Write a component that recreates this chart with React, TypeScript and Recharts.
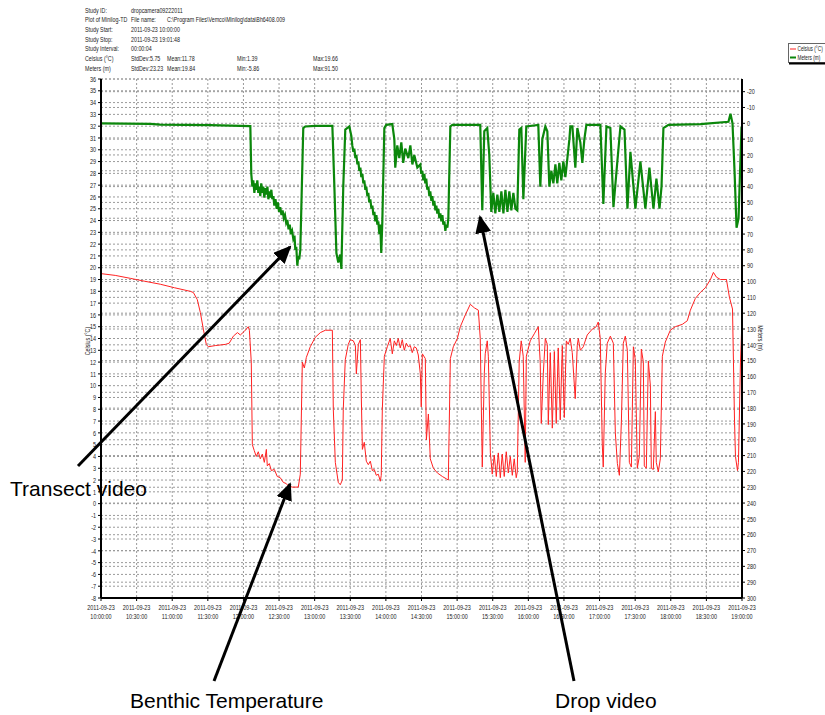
import React from 'react';
import { LineChart, Line, XAxis, YAxis, CartesianGrid } from 'recharts';

// minutes after 2011-09-23 10:00:00, value
const temperature: [number, number][] = [
  [0, 19.5], [12, 19.35], [24.7, 19.1], [37, 18.85], [50, 18.6], [62, 18.3], [75.2, 18.0], [77.8, 17.9], [81.1, 17.3],
  [83.7, 16.2], [86.2, 14.8], [88.7, 13.5], [90.4, 13.3], [96.3, 13.4], [104.7, 13.5], [108, 13.6], [111.5, 14.2],
  [114.9, 14.5], [117.4, 14.3], [120.7, 14.6], [124.1, 15.0], [125, 14.7], [126.6, 12], [127.5, 5.0], [129.1, 4.5],
  [130.8, 4.0], [132.5, 4.4], [134.2, 3.8], [135.9, 4.2], [137.6, 3.5], [139.3, 4.6], [140.1, 3.2], [141.8, 3.4],
  [143.5, 2.8], [146, 2.9], [148.5, 2.3], [151, 2.2], [153.6, 1.8], [156.1, 1.7], [157.8, 1.5], [161.2, 1.4],
  [166.2, 1.4], [167.9, 2.5], [169.6, 12.0], [171.3, 11.5], [173, 12.4], [176.3, 13.3], [180.5, 14.1], [184.8, 14.5],
  [189, 14.7], [194.9, 14.7], [195.7, 8], [197.4, 3.5], [199.9, 1.8], [201.6, 1.6], [203.3, 2.0], [204.1, 8],
  [205.8, 12.2], [208.3, 13.5], [210, 13.9], [212.6, 13.8], [214.3, 13.4], [215.1, 11.0], [216.8, 13.5], [218.5, 13.9],
  [219.3, 9], [220.2, 4.6], [221.8, 5.2], [223.5, 3.6], [225.2, 3.3], [226.9, 3.6], [228.6, 2.8], [230.2, 2.9],
  [231.9, 2.4], [233.6, 2.5], [235.3, 1.9], [236.1, 2.4], [237, 8], [238.7, 12.5], [241.2, 13.3], [243.7, 14.0],
  [245.4, 12.7], [247.1, 13.8], [248.8, 13.4], [250.4, 14.0], [252.1, 13.2], [253.8, 13.9], [255.5, 13.0],
  [257.2, 13.6], [258.9, 13.3], [260.6, 13.4], [262.2, 12.8], [263.9, 13.3], [265.6, 13.2], [267.3, 12.6], [269, 11],
  [269.8, 8.2], [270.7, 12.7], [273.2, 12.3], [274.1, 5.4], [275.8, 7.6], [277.4, 3.8], [280, 3.0], [283.4, 2.6],
  [287.6, 2.3], [291, 2.1], [292.6, 2.0], [294.3, 12.3], [296.8, 13.3], [300.2, 14.0], [302.7, 15.0], [306.9, 16.0],
  [311.1, 16.9], [314.5, 16.6], [317.9, 16.4], [319.5, 14], [321.2, 3.1], [322.9, 11], [323.7, 12.7], [325.4, 13.8],
  [326.3, 12.5], [328, 4.3], [329.6, 2.5], [331.3, 4.1], [333, 2.3], [334.7, 4.3], [336.4, 2.2], [338, 4.2],
  [339.7, 2.3], [341.4, 4.4], [343.1, 2.6], [344.8, 4.0], [346.5, 2.4], [348.1, 3.8], [349.8, 2.2], [350.7, 2.7],
  [352.3, 12], [354, 13.8], [355.7, 12.5], [357.4, 3.5], [358.3, 12.5], [361.6, 13.8], [365, 14.4], [368.4, 15.0],
  [370, 12], [370.9, 6.8], [372.6, 11], [374.3, 14.0], [376, 13.5], [376.8, 6.7], [378.5, 12.8], [380.2, 6.4],
  [381.9, 12.9], [383.5, 6.8], [385.2, 13.2], [386.9, 7.1], [388.6, 13.4], [390.3, 7.3], [392, 13.8], [393.6, 13.5],
  [395.3, 14.0], [397, 12.8], [399.5, 8.9], [401.2, 13.4], [402.1, 14.0], [403.8, 13.0], [406.3, 13.3], [409.6, 14.3],
  [413.9, 14.8], [417.2, 15.0], [418.9, 15.4], [420.6, 14], [422.3, 5], [423.1, 3.1], [424.8, 11], [426.5, 13.6],
  [429.1, 14.2], [431.6, 13.6], [433.3, 6], [435, 3.4], [436.7, 2.4], [438.4, 7], [440, 13.6], [441.7, 14.2],
  [443.4, 13], [445.1, 3.5], [446.8, 3.1], [448.5, 13.3], [450.1, 12.2], [451.8, 3.0], [453.5, 4.0], [455.2, 13.1],
  [456.9, 12.0], [457.7, 3.2], [459.4, 3.0], [461.1, 12.1], [462.8, 10], [463.6, 3.0], [465.3, 2.9], [467, 7.8],
  [467.8, 3.5], [469.5, 2.7], [471.2, 3.8], [472.9, 12.5], [475.4, 13.7], [479.6, 14.7], [483.8, 15.0], [489.7, 15.2],
  [493.9, 15.5], [496.5, 16.4], [500.7, 17.4], [504.9, 17.9], [509.1, 18.3], [513.4, 19.0], [515.9, 19.6],
  [518.5, 19.2], [521.8, 19.0], [526.9, 19.0], [529.4, 17.5], [532, 16.5], [533.7, 7], [534.5, 4.0], [536.2, 2.8],
  [537, 3.5], [538.7, 12], [539.6, 14.5],
];

const depth: [number, number][] = [
  [0, 0], [41.5, 0.3], [50, 0.8], [92, 1.2], [125.8, 1.8],
  [126.6, 32], [127.5, 40], [128.3, 36], [129.2, 44], [130, 38], [130.8, 42], [131.7, 36], [132.5, 44], [133.4, 40],
  [134.2, 46], [135, 38], [135.9, 44], [136.7, 40], [137.6, 47], [138.5, 41], [139.3, 45], [140.2, 40], [141, 48],
  [141.8, 43], [142.6, 47], [143.5, 42], [144.3, 48], [145.2, 46], [146, 52], [147, 48], [148, 54], [149, 50],
  [150, 56], [151, 53], [152, 58], [153, 55], [154, 60], [155, 58], [156, 63], [157, 61], [158, 67], [159, 64],
  [160, 70], [161, 68], [162, 73], [163, 71], [163.7, 80], [164.5, 78], [165.4, 90], [166.2, 84], [167, 86],
  [167.9, 80], [170.4, 3], [172.1, 2], [180.5, 1.6], [194.9, 1.6], [196.6, 40], [198.3, 82], [199.9, 88],
  [201.6, 83], [202.5, 92], [204.1, 40], [205.8, 4], [209.2, 2],
  [210.9, 8], [211.7, 14], [212.6, 18], [213.4, 16], [214.3, 22], [215.1, 20], [216, 26], [216.8, 24], [217.6, 30],
  [218.5, 28], [219.3, 34], [220.2, 32], [221, 38], [221.8, 36], [222.7, 42], [223.5, 40], [224.4, 46], [225.2, 44],
  [226, 50], [226.9, 48], [227.8, 54], [228.6, 52], [229.5, 58], [230.3, 56], [231.1, 62], [232, 58], [232.8, 64],
  [233.6, 62], [234.5, 70], [235.3, 64], [236.1, 82], [237, 62], [238.7, 3], [240.3, 1], [245.4, 0.5],
  [247.1, 10], [247.9, 28], [249.6, 14], [251.3, 22], [253, 12], [254.6, 25], [256.3, 16], [258.9, 22], [260.6, 14],
  [262.3, 26], [263.9, 20], [266.5, 28], [269, 26], [269.8, 32], [270.7, 30], [271.5, 36], [272.4, 32], [273.2, 38],
  [274, 35], [274.9, 42], [275.8, 40], [276.6, 46], [277.4, 43], [278.3, 49], [279.1, 46], [280, 52], [280.8, 49],
  [281.7, 55], [282.5, 52], [283.3, 57], [284.2, 54], [285, 60], [285.9, 57], [286.7, 62], [287.6, 58], [288.4, 64],
  [289.3, 62], [290.1, 68], [290.9, 64], [291.8, 66], [292.6, 60], [294.3, 2], [296, 1], [319.5, 1],
  [321.2, 55], [322.9, 5], [325.4, 3], [327.1, 20], [328.8, 56], [330.5, 44], [332.2, 57], [333.9, 45], [335.6, 56],
  [337.3, 43], [339, 57], [340.7, 42], [342.4, 56], [344, 43], [345.7, 55], [347.4, 44], [349.1, 54], [350.7, 55],
  [352.4, 4], [354.1, 3], [355.8, 48], [358.3, 2], [368.4, 1], [370.1, 40], [371.8, 10], [374.3, 2], [376, 5],
  [377.7, 40], [379.4, 30], [381.1, 38], [382.8, 26], [384.4, 38], [386.1, 25], [387.8, 36], [389.5, 24],
  [391.2, 34], [392.9, 22], [394.6, 10], [395.4, 2], [397.1, 2], [399.6, 28], [401.3, 3], [403.8, 12], [405.5, 25],
  [407.2, 10], [408.9, 1], [420.7, 1], [423.2, 51], [425.8, 2], [429.1, 3], [431.7, 53], [435, 24], [437.6, 2],
  [441, 4], [443.5, 54], [446, 18], [450.2, 54], [454.4, 24], [458.6, 54], [462, 28], [465.4, 54], [467.9, 35],
  [470.5, 54], [472.2, 40], [473.8, 3], [478.1, 1], [505, 0.5], [528.6, -1], [530.3, -6], [532, 0], [533.7, 30],
  [535.4, 66], [537.1, 60], [539.6, 2],
];

const tempData = temperature.map(([t, v]) => ({ t, v }));
const depthData = depth.map(([t, v]) => ({ t, v }));

const xTicks = [0, 30, 60, 90, 120, 150, 180, 210, 240, 270, 300, 330, 360, 390, 420, 450, 480, 510, 540];
const xTickDate = '2011-09-23';
const xTickTimes = [
  '10:00:00', '10:30:00', '11:00:00', '11:30:00', '12:00:00', '12:30:00', '13:00:00', '13:30:00', '14:00:00',
  '14:30:00', '15:00:00', '15:30:00', '16:00:00', '16:30:00', '17:00:00', '17:30:00', '18:00:00', '18:30:00', '19:00:00',
];
const leftTicks = [
  -8, -7, -6, -5, -4, -3, -2, -1, 0, 1, 2, 3, 4, 5, 6, 7, 8, 9, 10, 11, 12, 13, 14, 15, 16, 17, 18, 19, 20, 21, 22,
  23, 24, 25, 26, 27, 28, 29, 30, 31, 32, 33, 34, 35, 36,
];
const rightTicks = [
  -20, -10, 0, 10, 20, 30, 40, 50, 60, 70, 80, 90, 100, 110, 120, 130, 140, 150, 160, 170, 180, 190, 200, 210, 220,
  230, 240, 250, 260, 270, 280, 290, 300,
];

const headerRows: string[][] = [
  ['Study ID:', 'dropcamera09222011', '', '', ''],
  ['Plot of Minilog-TD', 'File name:', 'C:\\Program Files\\Vemco\\Minilog\\data\\Bh6408.009', '', ''],
  ['Study Start:', '2011-09-23 10:00:00', '', '', ''],
  ['Study Stop:', '2011-09-23 19:01:48', '', '', ''],
  ['Study Interval:', '00:00:04', '', '', ''],
  ['Celsius (°C)', 'StdDev:5.75', 'Mean:11.78', 'Min:1.39', 'Max:19.66'],
  ['Meters (m)', 'StdDev:23.23', 'Mean:19.84', 'Min:-5.86', 'Max:91.50'],
];
const headerCols = [85, 131, 167, 237, 313];

const FONT = '"Liberation Sans", Arial, sans-serif';
const SX = 0.74;

const NText = ({ x, y, size = 7.4, anchor = 'start', children, fill = '#222' }: any) => (
  <text
    transform={`translate(${x},${y}) scale(${SX},1)`}
    textAnchor={anchor}
    fontSize={size}
    fill={fill}
    fontFamily={FONT}
  >
    {children}
  </text>
);

const XTick = (props: any) => {
  const { x, y, payload } = props;
  const i = xTicks.indexOf(payload.value);
  return (
    <g>
      <NText x={x} y={y + 7} anchor="middle">{xTickDate}</NText>
      <NText x={x} y={y + 16.2} anchor="middle">{xTickTimes[i]}</NText>
    </g>
  );
};

const LeftTick = (props: any) => {
  const { x, y, payload } = props;
  return <NText x={x} y={y + 2.7} anchor="end">{payload.value}</NText>;
};

const RightTick = (props: any) => {
  const { x, y, payload } = props;
  return <NText x={x} y={y + 2.7} anchor="start">{payload.value}</NText>;
};

export default function App() {
  return (
    <div style={{ position: 'absolute', left: 0, top: 0, width: 825, height: 715, background: '#fff' }}>
      <LineChart width={825} height={715} margin={{ top: 79, right: 43, left: 61, bottom: 87 }}>
        <CartesianGrid xAxisId="x" yAxisId="left" stroke="#9a9a9a" strokeDasharray="2 2" horizontal vertical />
        <CartesianGrid xAxisId="x" yAxisId="right" stroke="#9a9a9a" strokeDasharray="2 2" horizontal vertical={false} />
        <XAxis
          xAxisId="x"
          dataKey="t"
          type="number"
          domain={[0, 540]}
          ticks={xTicks}
          interval={0}
          allowDataOverflow
          height={30}
          tickSize={3}
          tick={<XTick />}
          axisLine={{ stroke: '#000', strokeWidth: 2 }}
          tickLine={{ stroke: '#000' }}
        />
        <YAxis
          yAxisId="left"
          type="number"
          domain={[-8, 36]}
          ticks={leftTicks}
          interval={0}
          allowDataOverflow
          width={40}
          tickSize={3}
          tick={<LeftTick />}
          axisLine={{ stroke: '#000', strokeWidth: 2 }}
          tickLine={{ stroke: '#000' }}
        />
        <YAxis
          yAxisId="right"
          orientation="right"
          type="number"
          domain={[-28, 300]}
          reversed
          ticks={rightTicks}
          interval={0}
          allowDataOverflow
          width={40}
          tickSize={3}
          tick={<RightTick />}
          axisLine={{ stroke: '#000', strokeWidth: 2 }}
          tickLine={{ stroke: '#000' }}
        />
        <Line
          xAxisId="x"
          yAxisId="left"
          data={tempData}
          dataKey="v"
          type="linear"
          stroke="#ff2222"
          strokeWidth={1}
          dot={false}
          isAnimationActive={false}
        />
        <Line
          xAxisId="x"
          yAxisId="right"
          data={depthData}
          dataKey="v"
          type="linear"
          stroke="#0b870b"
          strokeWidth={2.2}
          dot={false}
          isAnimationActive={false}
        />
      </LineChart>

      <svg width={825} height={715} style={{ position: 'absolute', left: 0, top: 0, pointerEvents: 'none' }}>
        <defs>
          <marker id="ah" markerUnits="userSpaceOnUse" markerWidth={18} markerHeight={16} refX={16} refY={8} orient="auto">
            <path d="M0,0 L18,8 L0,16 z" fill="#000" />
          </marker>
        </defs>
        {headerRows.map((row, r) =>
          row.map((cell, c) =>
            cell ? (
              <NText key={`${r}-${c}`} x={headerCols[c]} y={12.5 + r * 9.7} size={7.2}>
                {cell}
              </NText>
            ) : null
          )
        )}
        {/* legend */}
        <rect x={788.5} y={43.5} width={50} height={19} fill="#fff" stroke="#666" strokeWidth={1} />
        <line x1={789} y1={63.5} x2={830} y2={63.5} stroke="#000" strokeWidth={2} />
        <line x1={790} y1={49} x2={796} y2={49} stroke="#ff2222" strokeWidth={1} />
        <NText x={797.5} y={51} size={6.4}>Celsius (°C)</NText>
        <line x1={790} y1={57.5} x2={796} y2={57.5} stroke="#0b870b" strokeWidth={2} />
        <NText x={797.5} y={59.5} size={6.4}>Meters (m)</NText>
        {/* axis titles */}
        <text
          transform={`translate(90,341) rotate(-90) scale(${SX},1)`}
          textAnchor="middle"
          fontSize={7.2}
          fill="#222"
          fontFamily={FONT}
        >
          Celsius (°C)
        </text>
        <text
          transform={`translate(758,338) rotate(90) scale(${SX},1)`}
          textAnchor="middle"
          fontSize={7.2}
          fill="#222"
          fontFamily={FONT}
        >
          Meters (m)
        </text>
        {/* annotations */}
        <line x1={78} y1={466} x2={290} y2={247} stroke="#000" strokeWidth={3} markerEnd="url(#ah)" />
        <line x1={214} y1={681} x2={290} y2={484} stroke="#000" strokeWidth={3} markerEnd="url(#ah)" />
        <line x1={574} y1={681} x2={480} y2={217} stroke="#000" strokeWidth={3} markerEnd="url(#ah)" />
        <text x={10} y={496} fontSize={21} fill="#000" fontFamily={FONT}>Transect video</text>
        <text x={130} y={708} fontSize={21} fill="#000" fontFamily={FONT}>Benthic Temperature</text>
        <text x={555} y={708} fontSize={21} fill="#000" fontFamily={FONT}>Drop video</text>
      </svg>
    </div>
  );
}
